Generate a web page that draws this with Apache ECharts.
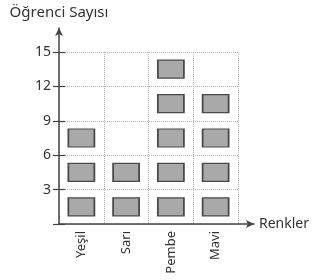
<!DOCTYPE html>
<html>
<head>
<meta charset="utf-8">
<script src="https://cdn.jsdelivr.net/npm/echarts@6/dist/echarts.min.js"></script>
<style>
  html, body { margin: 0; padding: 0; background: #fff; }
  #chart { width: 312px; height: 280px; }
</style>
</head>
<body>
<div id="chart"></div>
<script>
var categories = ['Yeşil', 'Sarı', 'Pembe', 'Mavi'];
var counts = [9, 6, 15, 12];      // öğrenci sayısı
var step = 3;                     // her kutu 3 öğrenci
var yTicks = [0, 3, 6, 9, 12, 15];

var fontName = 'Noto Sans';
var axisColor = '#444';
var gridColor = '#b5b5b5';

// one block per 3 students, centred in its cell
var blocks = [];
for (var i = 0; i < categories.length; i++) {
    for (var k = 0; k < counts[i] / step; k++) {
        blocks.push([categories[i], k * step + step / 2]);
    }
}

var myChart = echarts.init(document.getElementById('chart'));

var option = {
    animation: false,
    grid: [
        // axes with arrows
        { left: 59, right: 52, top: 28, bottom: 56 },
        // data area
        { left: 59, right: 74, top: 52, bottom: 56 }
    ],
    xAxis: [{
        gridIndex: 0,
        type: 'value', min: 0, max: 1,
        axisLine: { show: true, symbol: ['none', 'arrow'], symbolSize: [6, 8],
            lineStyle: { color: axisColor, width: 1.5 } },
        axisTick: { show: false }, axisLabel: { show: false }, splitLine: { show: false },
        name: 'Renkler', nameLocation: 'end', nameGap: 5,
        nameTextStyle: { color: '#333', fontSize: 14, fontFamily: fontName }
    }, {
        gridIndex: 1,
        type: 'category', data: categories, boundaryGap: true,
        axisLine: { show: false }, axisTick: { show: false },
        axisLabel: { rotate: 90, margin: 7, color: '#333', fontSize: 13, fontFamily: fontName },
        splitLine: { show: true, lineStyle: { color: gridColor, type: 'dotted', width: 1 } }
    }],
    yAxis: [{
        gridIndex: 0,
        type: 'value', min: 0, max: 1,
        axisLine: { show: true, symbol: ['none', 'arrow'], symbolSize: [6, 8],
            lineStyle: { color: axisColor, width: 1.5 } },
        axisTick: { show: false }, axisLabel: { show: false }, splitLine: { show: false },
        name: 'Öğrenci Sayısı', nameLocation: 'end', nameGap: 8,
        nameTextStyle: { color: '#333', fontSize: 15, fontFamily: fontName, align: 'center' }
    }, {
        gridIndex: 1,
        type: 'value', min: yTicks[0], max: yTicks[yTicks.length - 1], interval: step,
        axisLine: { show: false },
        axisTick: { show: true, length: 6, lineStyle: { color: axisColor, width: 1.2 } },
        axisLabel: { margin: 8, color: '#333', fontSize: 14, fontFamily: fontName,
            formatter: function (v) { return v === 0 ? '' : v; } },
        splitLine: { show: true, lineStyle: { color: gridColor, type: 'dotted', width: 1 } }
    }, {
        gridIndex: 1,
        type: 'value', min: yTicks[0], max: yTicks[yTicks.length - 1], interval: step,
        position: 'left',
        axisLine: { show: false },
        axisTick: { show: true, inside: true, length: 6, lineStyle: { color: axisColor, width: 1.2 } },
        axisLabel: { show: false },
        splitLine: { show: false }
    }],
    series: [{
        type: 'scatter',
        xAxisIndex: 1, yAxisIndex: 1,
        symbol: 'rect',
        symbolSize: [26, 18],
        data: blocks,
        itemStyle: { color: '#a9a9a9', borderColor: '#4a4a4a', borderWidth: 1.5, opacity: 1 }
    }]
};
myChart.setOption(option);
</script>
</body>
</html>
